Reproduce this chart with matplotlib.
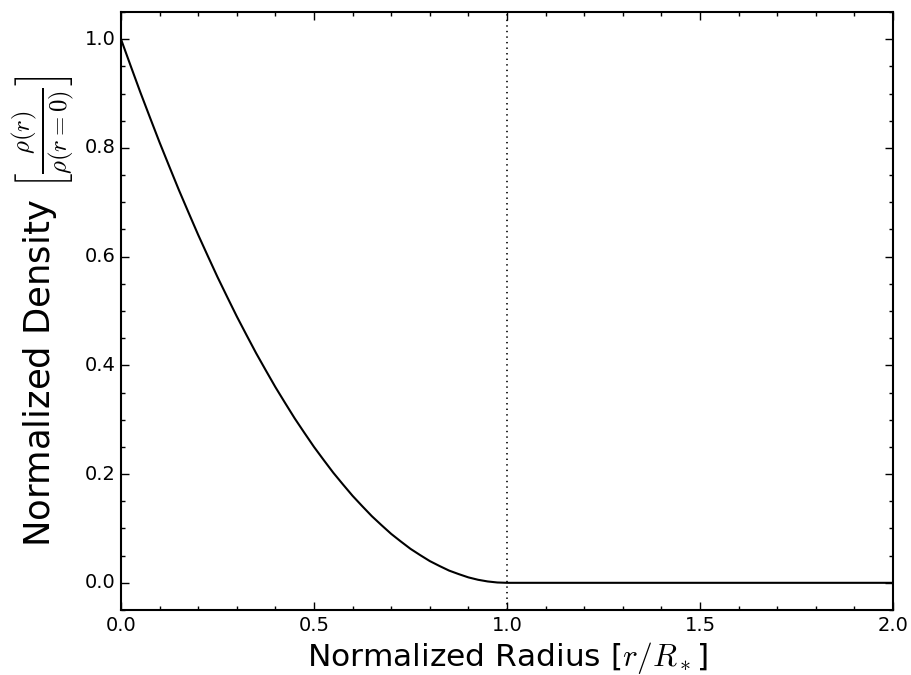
import matplotlib
matplotlib.use('Agg')
import matplotlib.pyplot as plt
from matplotlib.ticker import MultipleLocator

plt.style.use('classic')
plt.rcParams['mathtext.fontset'] = 'cm'
plt.rcParams['font.family'] = 'DejaVu Sans'

# values
radius = [0.0, 0.025, 0.05, 0.075, 0.1, 0.125, 0.15, 0.175, 0.2, 0.225, 0.25,
          0.275, 0.3, 0.325, 0.35, 0.375, 0.4, 0.425, 0.45, 0.475, 0.5,
          0.525, 0.55, 0.575, 0.6, 0.625, 0.65, 0.675, 0.7, 0.725, 0.75,
          0.775, 0.8, 0.825, 0.85, 0.875, 0.9, 0.925, 0.95, 0.975, 1.0, 2.0]
density = [1.0, 0.951, 0.9025, 0.856, 0.81, 0.766, 0.7225, 0.681, 0.64, 0.601, 0.5625,
           0.526, 0.49, 0.456, 0.4225, 0.391, 0.36, 0.331, 0.3025, 0.276, 0.25,
           0.226, 0.2025, 0.181, 0.16, 0.141, 0.1225, 0.106, 0.09, 0.076, 0.0625,
           0.051, 0.04, 0.031, 0.0225, 0.016, 0.01, 0.0056, 0.0025, 0.0006, 0.0, 0.0]
surface_r = 1.0

fig = plt.figure(figsize=(9.12, 6.75), dpi=100, facecolor='white')
ax = fig.add_axes([121 / 912, 65 / 675, 772 / 912, 598 / 675])

ax.plot(radius, density, color='black', linewidth=1.5)
ax.axvline(surface_r, color='black', linestyle=':', linewidth=1.2)

ax.set_xlim(0, 2.0)
ax.set_ylim(-0.05, 1.05)
ax.xaxis.set_major_locator(MultipleLocator(0.5))
ax.xaxis.set_minor_locator(MultipleLocator(0.1))
ax.yaxis.set_major_locator(MultipleLocator(0.2))
ax.yaxis.set_minor_locator(MultipleLocator(0.05))
ax.tick_params(which='both', direction='in', top=True, right=True, labelsize=14)
ax.tick_params(which='major', length=6, width=1)
ax.tick_params(which='minor', length=3, width=1)
for sp in ax.spines.values():
    sp.set_linewidth(1.5)

ax.set_xlabel(r'Normalized Radius [$r/R_*$]', fontsize=22.5, labelpad=4)
ax.set_ylabel(r'Normalized Density $\left[\frac{\rho(r)}{\rho(r=0)}\right]$',
              fontsize=25.5, labelpad=6)

fig.savefig('out.png', dpi=100, facecolor='white')
